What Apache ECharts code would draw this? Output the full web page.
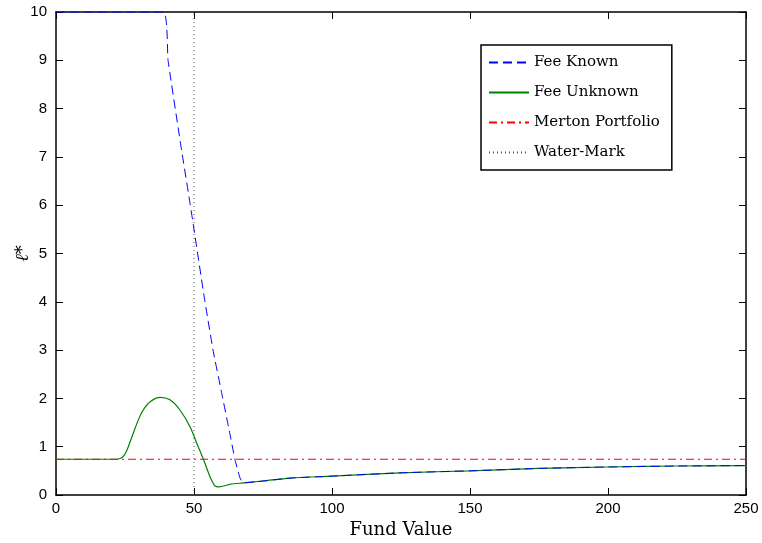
<!DOCTYPE html>
<html>
<head>
<meta charset="utf-8">
<script src="https://cdn.jsdelivr.net/npm/echarts@6/dist/echarts.min.js"></script>
<style>html,body{margin:0;padding:0;background:#fff;}#c{width:762px;height:543px;}</style>
</head>
<body>
<div id="c"></div>
<script>
// Data
var knownX = [0, 38.8, 40.6, 45.5, 48.2, 49.5, 53.7, 56.9, 60, 62.5, 64.9, 66.0, 66.7, 67.9, 72, 84.8, 100, 125, 150, 175, 200, 225, 250];
var knownY = [10, 10, 9.0, 7.14, 6.17, 5.69, 4.1, 3.0, 2.12, 1.41, 0.72, 0.48, 0.35, 0.25, 0.27, 0.35, 0.39, 0.46, 0.50, 0.55, 0.58, 0.60, 0.61];
var unknownX = [0, 21.5, 22.6, 23.6, 24.4, 25.3, 26.2, 28.0, 29.8, 31.6, 34.1, 37.7, 41.3, 44.9, 48.6, 51.0, 53.4, 55.8, 57.6, 59.0, 63, 67.9, 75, 84.8, 100, 125, 150, 175, 200, 225, 250];
var unknownY = [0.74, 0.74, 0.745, 0.765, 0.80, 0.88, 1.0, 1.28, 1.55, 1.76, 1.93, 2.02, 1.97, 1.76, 1.41, 1.07, 0.74, 0.38, 0.19, 0.17, 0.22, 0.25, 0.29, 0.35, 0.39, 0.46, 0.50, 0.55, 0.58, 0.60, 0.61];
var mertonX = [0, 250];
var mertonY = [0.74, 0.74];
var waterX = [50, 50];
var waterY = [0, 10];
var xTicks = [0, 50, 100, 150, 200, 250];
var yTicks = [0, 1, 2, 3, 4, 5, 6, 7, 8, 9, 10];

function pairs(xs, ys) { return xs.map(function (x, i) { return [x, ys[i]]; }); }

var chart = echarts.init(document.getElementById('c'), null, { renderer: 'canvas' });
var tickFont = { fontFamily: 'Liberation Sans, Arial, sans-serif', fontSize: 15, color: '#000' };
var axisLine = { show: true, onZero: false, lineStyle: { color: '#000', width: 1.5 } };
var axisTick = { show: true, inside: true, length: 7, lineStyle: { color: '#000', width: 1 } };

chart.setOption({
  animation: false,
  backgroundColor: '#fff',
  grid: { left: 56, right: 16, top: 12, bottom: 48, containLabel: false, outerBoundsMode: 'none' },
  legend: {
    orient: 'vertical',
    left: 481, top: 45,
    width: 209, height: 122,
    padding: [10, 12, 10, 7],
    itemWidth: 40, itemHeight: 14, itemGap: 15,
    borderColor: '#000', borderWidth: 1.5,
    backgroundColor: '#fff',
    itemStyle: { opacity: 0 },
    textStyle: { fontFamily: 'DejaVu Serif, serif', fontSize: 15, color: '#000' },
    data: ['Fee Known', 'Fee Unknown', 'Merton Portfolio', 'Water-Mark']
  },
  xAxis: [{
    type: 'value', min: xTicks[0], max: xTicks[xTicks.length - 1], interval: 50,
    name: 'Fund Value', nameLocation: 'middle', nameGap: 24,
    nameTextStyle: { fontFamily: 'DejaVu Serif, serif', fontSize: 18, color: '#000' },
    axisLine: axisLine, axisTick: axisTick, splitLine: { show: false },
    axisLabel: Object.assign({ margin: 6 }, tickFont)
  }, {
    type: 'value', position: 'top', min: 0, max: 250, interval: 50,
    axisLine: axisLine, axisTick: axisTick, splitLine: { show: false }, axisLabel: { show: false }
  }],
  yAxis: [{
    type: 'value', min: yTicks[0], max: yTicks[yTicks.length - 1], interval: 1,
    name: 'ℓ*', nameLocation: 'middle', nameGap: 24, nameRotate: 90, nameMoveOverlap: false,
    nameTextStyle: { fontFamily: 'DejaVu Serif, serif', fontStyle: 'italic', fontSize: 18, color: '#000' },
    axisLine: axisLine, axisTick: axisTick, splitLine: { show: false },
    axisLabel: Object.assign({ margin: 9 }, tickFont)
  }, {
    type: 'value', position: 'right', min: 0, max: 10, interval: 1,
    axisLine: axisLine, axisTick: axisTick, splitLine: { show: false }, axisLabel: { show: false }
  }],
  series: [
    {
      name: 'Merton Portfolio', type: 'line', data: pairs(mertonX, mertonY), symbol: 'none', z: 2,
      lineStyle: { color: '#ff0000', width: 1, type: [8, 4, 2, 4] }, itemStyle: { color: '#ff0000' }
    },
    {
      name: 'Water-Mark', type: 'line', data: pairs(waterX, waterY), symbol: 'none', z: 2,
      lineStyle: { color: '#555555', width: 1, type: [1, 3] }, itemStyle: { color: '#555555' }
    },
    {
      name: 'Fee Unknown', type: 'line', data: pairs(unknownX, unknownY), symbol: 'none',
      smooth: 0.3, z: 3,
      lineStyle: { color: '#008000', width: 1.2 }, itemStyle: { color: '#008000' }
    },
    {
      name: 'Fee Known', type: 'line', data: pairs(knownX, knownY), symbol: 'none',
      smooth: 0.15, z: 4,
      lineStyle: { color: '#0000ff', width: 1, type: [9, 5] }, itemStyle: { color: '#0000ff' }
    }
  ]
});
</script>
</body>
</html>
